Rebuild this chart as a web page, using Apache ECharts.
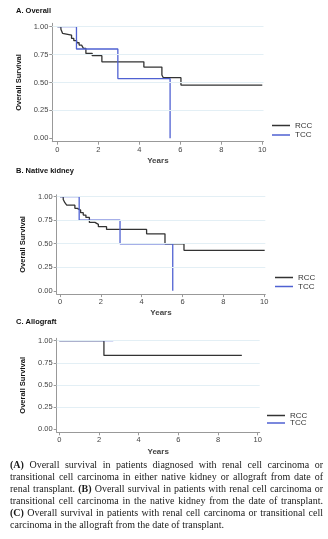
<!DOCTYPE html>
<html><head><meta charset="utf-8">
<script src="https://cdn.jsdelivr.net/npm/echarts@6/dist/echarts.min.js"></script>
<style>
html,body{margin:0;padding:0;background:#fff;}
#c{position:absolute;left:0;top:0;width:328px;height:539px;}
#cap{position:absolute;left:10px;top:459px;width:313px;font-family:"Liberation Serif","Times New Roman",serif;font-size:10px;line-height:12px;color:#1a1a1a;}
#cap div{text-align:justify;text-align-last:justify;white-space:nowrap;}
#cap div.last{text-align-last:left;}
</style></head>
<body>
<div id="c"></div>
<div id="cap">
<div><b>(A)</b> Overall survival in patients diagnosed with renal cell carcinoma or</div>
<div>transitional cell carcinoma in either native kidney or allograft from date of</div>
<div>renal transplant. <b>(B)</b> Overall survival in patients with renal cell carcinoma or</div>
<div>transitional cell carcinoma in the native kidney from the date of transplant.</div>
<div><b>(C)</b> Overall survival in patients with renal cell carcinoma or transitional cell</div>
<div class="last">carcinoma in the allograft from the date of transplant.</div>
</div>
<script>
const yearTicks = [0, 2, 4, 6, 8, 10];
const survTicks = [0, 0.25, 0.5, 0.75, 1];
const seriesNames = ['RCC', 'TCC'];
const panelTitles = ['A. Overall', 'B. Native kidney', 'C. Allograft'];

// Kaplan-Meier steps: [years, survival after step]
const rccA = [[0,1],[0.17,0.976],[0.25,0.94],[0.3,0.925],[0.69,0.895],[0.8,0.874],[0.94,0.856],[1.06,0.835],[1.18,0.82],[1.27,0.806],[1.39,0.76],[1.7,0.74],[2.17,0.685],[4.22,0.638],[5.1,0.567],[5.17,0.543],[6.03,0.477],[10,0.477]];
const tccA = [[0,1],[0.93,0.8],[2.95,0.535],[5.5,0]];
const rccB = [[0,1],[0.16,0.97],[0.24,0.936],[0.33,0.91],[0.73,0.876],[0.85,0.858],[1.01,0.83],[1.14,0.805],[1.27,0.78],[1.44,0.727],[1.71,0.706],[1.88,0.681],[2.28,0.652],[4.24,0.605],[5.14,0.5],[6.07,0.43],[10.02,0.43]];
const tccB = [[0,1],[0.94,0.75],[2.94,0.5],[5.52,0]];
const rccC = [[0,1],[2.25,0.833],[9.2,0.833]];
const tccC = [[0,1],[2.72,1]];

const data = [[rccA, tccA], [rccB, tccB], [rccC, tccC]];
const colors = ['#333333', '#4f61d2'];

const layout = [
  {grid:{left:52.3, top:23.3, width:211.2, height:118.4}, x:[-0.25,10.06], y:[-0.03,1.03], title:7, legend:[272,121], gap:0.5},
  {grid:{left:56.7, top:194.8, width:208.6, height:99.3}, x:[-0.16,10.05], y:[-0.035,1.02], title:167, legend:[275,273], gap:0},
  {grid:{left:56.7, top:338.3, width:203, height:94}, x:[-0.13,10.1], y:[-0.037,1.027], title:318, legend:[267,411], gap:-1.5}
];

const grids = [], xAxes = [], yAxes = [], series = [], titles = [], legends = [];
layout.forEach((p, i) => {
  grids.push(p.grid);
  titles.push({text: panelTitles[i], left: 16, top: p.title, padding: 0,
    textStyle: {fontSize: 7.5, fontWeight: 'bold', color: '#111', fontFamily: 'Liberation Sans'}});
  xAxes.push({type:'value', gridIndex:i, min:p.x[0], max:p.x[1],
    name:'Years', nameLocation:'middle', nameGap:15,
    nameTextStyle:{fontSize:8, fontWeight:'bold', color:'#444', fontFamily:'Liberation Sans'},
    axisLine:{show:true, onZero:false, lineStyle:{color:'#999', width:1}},
    axisTick:{show:true, length:3, customValues:yearTicks, lineStyle:{color:'#999'}},
    axisLabel:{customValues:yearTicks, fontSize:7.5, color:'#444', margin:4, fontFamily:'Liberation Sans'},
    splitLine:{show:false}});
  yAxes.push({type:'value', gridIndex:i, min:p.y[0], max:p.y[1],
    name:'Overall Survival', nameLocation:'middle', nameGap:27,
    nameTextStyle:{fontSize:7.5, fontWeight:'bold', color:'#111', fontFamily:'Liberation Sans'},
    axisLine:{show:true, onZero:false, lineStyle:{color:'#999', width:1}},
    axisTick:{show:true, length:3, customValues:survTicks, lineStyle:{color:'#999'}},
    axisLabel:{customValues:survTicks, fontSize:7.5, color:'#444', margin:4, fontFamily:'Liberation Sans',
      formatter: v => v.toFixed(2)},
    splitLine:{show:false}});
  legends.push({orient:'vertical', left:p.legend[0], top:p.legend[1], padding:0,
    icon:'rect', itemWidth:18, itemHeight:1.5, itemGap:p.gap,
    data: seriesNames, selectedMode:false,
    textStyle:{fontSize:8, lineHeight:9, color:'#333', fontFamily:'Liberation Sans'}});
  // light horizontal guide lines
  series.push({type:'line', xAxisIndex:i, yAxisIndex:i, data:[], silent:true,
    markLine:{silent:true, symbol:'none', label:{show:false},
      lineStyle:{color:'#e3eff5', width:1, type:'solid'},
      data: survTicks.filter(v => v > 0).map(v => ({yAxis: v}))}});
  seriesNames.forEach((nm, k) => {
    series.push({type:'line', name:nm, xAxisIndex:i, yAxisIndex:i, step:'end', data:data[i][k],
      symbol:'none', lineStyle:{color:colors[k], width:1.3}, itemStyle:{color:colors[k]}, z:3+k});
  });
});

const chart = echarts.init(document.getElementById('c'), null, {renderer:'canvas'});
chart.setOption({animation:false, backgroundColor:'#fff', title:titles, grid:grids, xAxis:xAxes, yAxis:yAxes, legend:legends, series:series});
</script>
</body></html>
